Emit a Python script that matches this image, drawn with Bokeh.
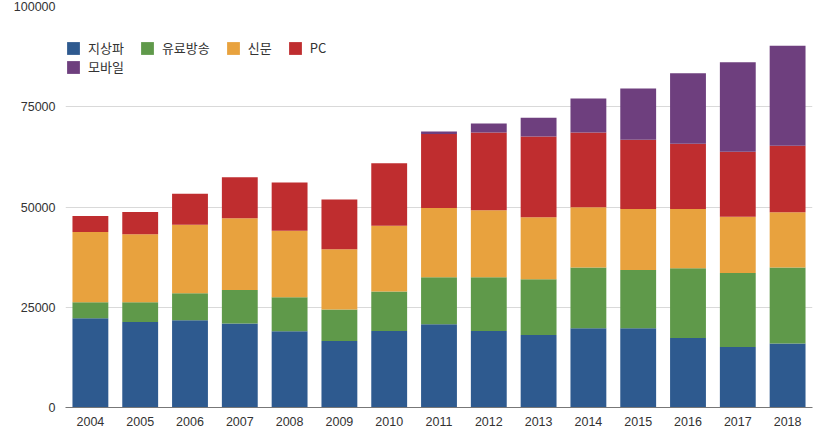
from bokeh.plotting import figure
from bokeh.models import Legend, LegendItem, FixedTicker, ColumnDataSource
from bokeh.embed import file_html
from bokeh.resources import INLINE

years = [str(y) for y in range(2004, 2019)]
series = ["지상파", "유료방송", "신문", "PC", "모바일"]
terrestrial = [22250, 21330, 21750, 20930, 19010, 16600, 19090, 20760, 19090, 18090, 19760, 19760, 17350, 15100, 15950]
paytv = [3990, 4910, 6730, 8370, 8480, 7820, 9810, 11710, 13380, 13880, 15130, 14530, 17360, 18440, 18940]
newspaper = [17520, 16940, 17120, 17870, 16610, 15030, 16450, 17270, 16700, 15450, 15020, 15200, 14780, 14050, 13780]
pc = [3990, 5560, 7730, 10220, 12040, 12450, 15530, 18440, 19430, 20180, 18690, 17290, 16300, 16200, 16620]
mobile = [0, 0, 0, 0, 0, 0, 0, 670, 2250, 4670, 8470, 12790, 17590, 22330, 24910]
y_ticks = [0, 25000, 50000, 75000, 100000]

colors = ["#2E5A8F", "#5F994A", "#E8A23E", "#BF2D2F", "#6E3F7E"]
keys = ["s0", "s1", "s2", "s3", "s4"]

src = ColumnDataSource(dict(x=years, s0=terrestrial, s1=paytv, s2=newspaper, s3=pc, s4=mobile))

p = figure(x_range=years, y_range=(0, 100000), output_backend="svg", toolbar_location=None,
           frame_width=747, frame_height=401, min_border_left=65, min_border_top=6,
           min_border_bottom=30, min_border_right=15, outline_line_color=None)

p.vbar_stack(keys, x="x", width=0.72, color=colors, line_color=None, source=src)

# legend swatches: hidden area renderers on the same data
proxies = [p.varea(x="x", y1=0, y2=k, source=src, fill_color=c, visible=False)
           for k, c in zip(keys, colors)]

p.xgrid.grid_line_color = None
p.ygrid.grid_line_color = "#d9d9d9"
p.ygrid.grid_line_width = 1
p.yaxis.ticker = FixedTicker(ticks=y_ticks)
p.yaxis.axis_line_color = None
p.yaxis.major_tick_line_color = None
p.yaxis.minor_tick_line_color = None
p.yaxis.major_tick_out = 0
p.yaxis.major_label_standoff = 10
p.yaxis.formatter.use_scientific = False
p.x_range.range_padding = 0
p.xaxis.axis_line_color = "#777777"
p.xaxis.major_tick_line_color = None
p.xaxis.major_tick_out = 0
p.xaxis.major_label_standoff = 9
for ax in (p.xaxis, p.yaxis):
    ax.major_label_text_font = "Liberation Sans"
    ax.major_label_text_font_size = "12.5px"
    ax.major_label_text_color = "#333333"

common = dict(orientation="horizontal", padding=0, margin=0, spacing=15, glyph_width=16,
              glyph_height=16, label_standoff=7, label_text_font="Noto Sans CJK KR",
              label_text_font_size="13px", label_text_color="#333333", border_line_color=None,
              background_fill_alpha=0, label_height=13, inactive_fill_alpha=0)
items = [LegendItem(label=s, renderers=[r]) for s, r in zip(series, proxies)]
legend1 = Legend(items=items[:4], location=(0, 350), **common)
legend2 = Legend(items=items[4:], location=(0, 331), **common)
p.add_layout(legend1, "center")
p.add_layout(legend2, "center")

open("out.html", "w").write(file_html(p, INLINE))
